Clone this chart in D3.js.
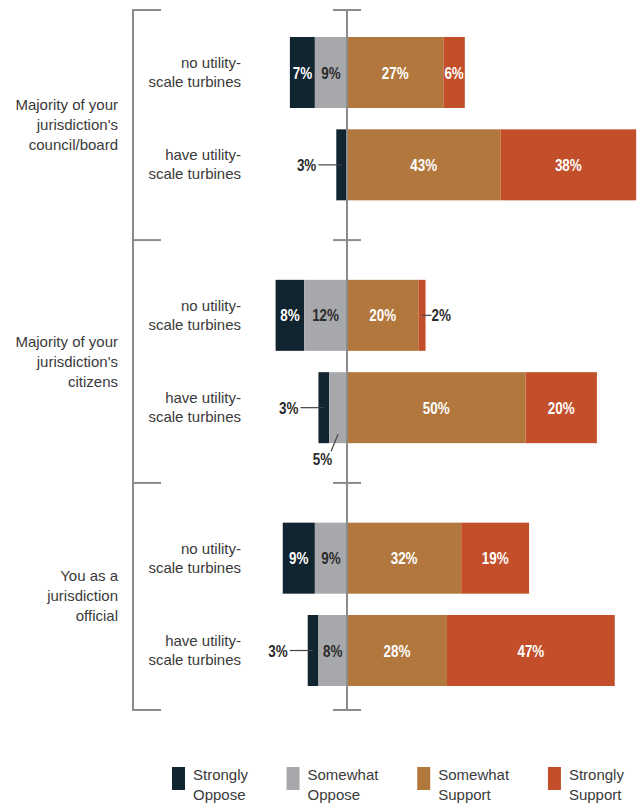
<!DOCTYPE html>
<html>
<head>
<meta charset="utf-8">
<script src="https://cdn.jsdelivr.net/npm/d3@7"></script>
<style>
  html, body { margin: 0; padding: 0; background: #fff; }
  svg { display: block; }
  text { font-family: "Liberation Sans", Arial, sans-serif; }
</style>
</head>
<body>
<svg id="chart" width="638" height="804"></svg>
<script>
// Respondent groups and the two sub-rows drawn inside each group
const groupLabels = [
  ["Majority of your", "jurisdiction's", "council/board"],
  ["Majority of your", "jurisdiction's", "citizens"],
  ["You as a", "jurisdiction", "official"]
];
const rowLabels = [
  ["no utility-", "scale turbines"],
  ["have utility-", "scale turbines"]
];
const seriesNames = [
  ["Strongly", "Oppose"],
  ["Somewhat", "Oppose"],
  ["Somewhat", "Support"],
  ["Strongly", "Support"]
];

// Percent values, one entry per row (group 1 no/have, group 2 no/have, group 3 no/have)
const stronglyOppose  = [7, 3, 8, 3, 9, 3];
const somewhatOppose  = [9, 0, 12, 5, 9, 8];
const somewhatSupport = [27, 43, 20, 50, 32, 28];
const stronglySupport = [6, 38, 2, 20, 19, 47];

const colors = ["#10252f", "#a7a8ac", "#b2773d", "#c24e2a"];
const labelColors = ["#ffffff", "#2b2b2b", "#ffffff", "#ffffff"];
const textColor = "#3a3a3a";

const svg = d3.select("#chart");

// Horizontal scale: percent, diverging around zero
const x = d3.scaleLinear().domain([-20, 80]).range([275.6, 632.6]);
const x0 = x(0);

// Vertical scale: row slots, with an extra gap between groups
const groupGap = 0.63;
const nRows = stronglyOppose.length;
const slot = i => i + Math.floor(i / 2) * groupGap;
const y = d3.scaleLinear().domain([0, slot(nRows - 1)]).range([72.5, 650.5]);
const barH = 71;

// Build stacked segments per row
const rows = d3.range(nRows).map(i => {
  const vals = [stronglyOppose[i], somewhatOppose[i], somewhatSupport[i], stronglySupport[i]];
  const left = -(vals[0] + vals[1]);
  const segs = [
    { k: 0, v: vals[0], a: left, b: left + vals[0] },
    { k: 1, v: vals[1], a: left + vals[0], b: 0 },
    { k: 2, v: vals[2], a: 0, b: vals[2] },
    { k: 3, v: vals[3], a: vals[2], b: vals[2] + vals[3] }
  ];
  return { i, cy: y(slot(i)), segs: segs.filter(s => s.v > 0) };
});

// Group boundaries (top, between groups, bottom)
const bounds = [y(slot(0)) - 62.5];
for (let g = 1; g < groupLabels.length; g++) {
  bounds.push((y(slot(2 * g - 1)) + y(slot(2 * g))) / 2);
}
bounds.push(y(slot(nRows - 1)) + 59.5);

const lineColor = "#8c8c8c";
const bracketX = 133;

// Left bracket
svg.append("line")
  .attr("x1", bracketX).attr("x2", bracketX)
  .attr("y1", bounds[0]).attr("y2", bounds[bounds.length - 1])
  .attr("stroke", lineColor).attr("stroke-width", 2);
svg.selectAll(".btick").data(bounds).join("line")
  .attr("x1", bracketX - 1).attr("x2", bracketX + 28)
  .attr("y1", d => d).attr("y2", d => d)
  .attr("stroke", lineColor).attr("stroke-width", 2);

// Group labels
groupLabels.forEach((lines, g) => {
  const cy = (bounds[g] + bounds[g + 1]) / 2;
  const t = svg.append("text")
    .attr("text-anchor", "end")
    .attr("font-size", 15)
    .attr("fill", textColor);
  lines.forEach((ln, j) => {
    t.append("tspan")
      .attr("x", 118)
      .attr("y", cy + 5 + (j - (lines.length - 1) / 2) * 20)
      .text(ln);
  });
});

// Row labels
rows.forEach(r => {
  const lines = rowLabels[r.i % 2];
  const t = svg.append("text")
    .attr("text-anchor", "end")
    .attr("font-size", 15)
    .attr("fill", textColor);
  lines.forEach((ln, j) => {
    t.append("tspan")
      .attr("x", 241)
      .attr("y", r.cy - 4.5 + j * 19)
      .text(ln);
  });
});

// Bars
const rowG = svg.selectAll(".row").data(rows).join("g").attr("class", "row");
rowG.selectAll("rect").data(d => d.segs.map(s => ({ ...s, cy: d.cy }))).join("rect")
  .attr("x", d => x(d.a))
  .attr("width", d => x(d.b) - x(d.a))
  .attr("y", d => d.cy - barH / 2)
  .attr("height", barH)
  .attr("fill", d => colors[d.k]);

// Centre axis line with group ticks
svg.append("line")
  .attr("x1", x0).attr("x2", x0)
  .attr("y1", bounds[0]).attr("y2", bounds[bounds.length - 1])
  .attr("stroke", lineColor).attr("stroke-width", 2);
svg.selectAll(".ctick").data(bounds).join("line")
  .attr("x1", x0 - 14).attr("x2", x0 + 14)
  .attr("y1", d => d).attr("y2", d => d)
  .attr("stroke", lineColor).attr("stroke-width", 2);

// Value labels in a condensed bold face; inside when they fit, otherwise outside with a leader
const squeeze = 0.84;
function valueText(px, py, anchor, fill, txt) {
  return svg.append("text")
    .attr("transform", `translate(${px},${py}) scale(${squeeze},1)`)
    .attr("font-size", 16)
    .attr("font-weight", "bold")
    .attr("text-anchor", anchor)
    .attr("fill", fill)
    .text(txt);
}
rows.forEach(r => {
  const segs = r.segs;
  segs.forEach((s, idx) => {
    const txt = s.v + "%";
    const xa = x(s.a), xb = x(s.b), w = xb - xa, cx = (xa + xb) / 2;
    const t = valueText(cx, r.cy + 6, "middle", labelColors[s.k], txt);
    const tw = t.node().getComputedTextLength() * squeeze;
    if (w >= tw + 1) return;
    t.remove();
    if (idx === 0) {
      // leftmost segment: label to the left
      const lx = xa - 18;
      valueText(lx - 2, r.cy + 6, "end", "#2b2b2b", txt);
      svg.append("line")
        .attr("x1", lx).attr("x2", cx).attr("y1", r.cy).attr("y2", r.cy)
        .attr("stroke", "#444").attr("stroke-width", 1.2);
    } else if (idx === segs.length - 1) {
      // rightmost segment: label to the right
      const lx = xb + 6;
      svg.append("line")
        .attr("x1", cx).attr("x2", lx).attr("y1", r.cy).attr("y2", r.cy)
        .attr("stroke", "#444").attr("stroke-width", 1.2);
      valueText(lx, r.cy + 6, "start", "#2b2b2b", txt);
    } else {
      // middle segment: label below with a slanted leader
      const by = r.cy + barH / 2;
      valueText(cx - 6, by + 22, "end", "#2b2b2b", txt);
      svg.append("line")
        .attr("x1", cx).attr("y1", by - 9)
        .attr("x2", cx - 7).attr("y2", by + 8)
        .attr("stroke", "#444").attr("stroke-width", 1.2);
    }
  });
});

// Legend
const legend = svg.append("g").attr("transform", "translate(172,767)");
let lx = 0;
seriesNames.forEach((lines, k) => {
  const g = legend.append("g").attr("transform", `translate(${lx},0)`);
  g.append("rect").attr("width", 13).attr("height", 23).attr("fill", colors[k]);
  const t = g.append("text").attr("font-size", 15).attr("fill", textColor);
  lines.forEach((ln, j) => {
    t.append("tspan").attr("x", 21).attr("y", 13 + j * 20).text(ln);
  });
  const tw = t.node().getBBox().width;
  lx += 21 + tw + 38;
});
</script>
</body>
</html>
